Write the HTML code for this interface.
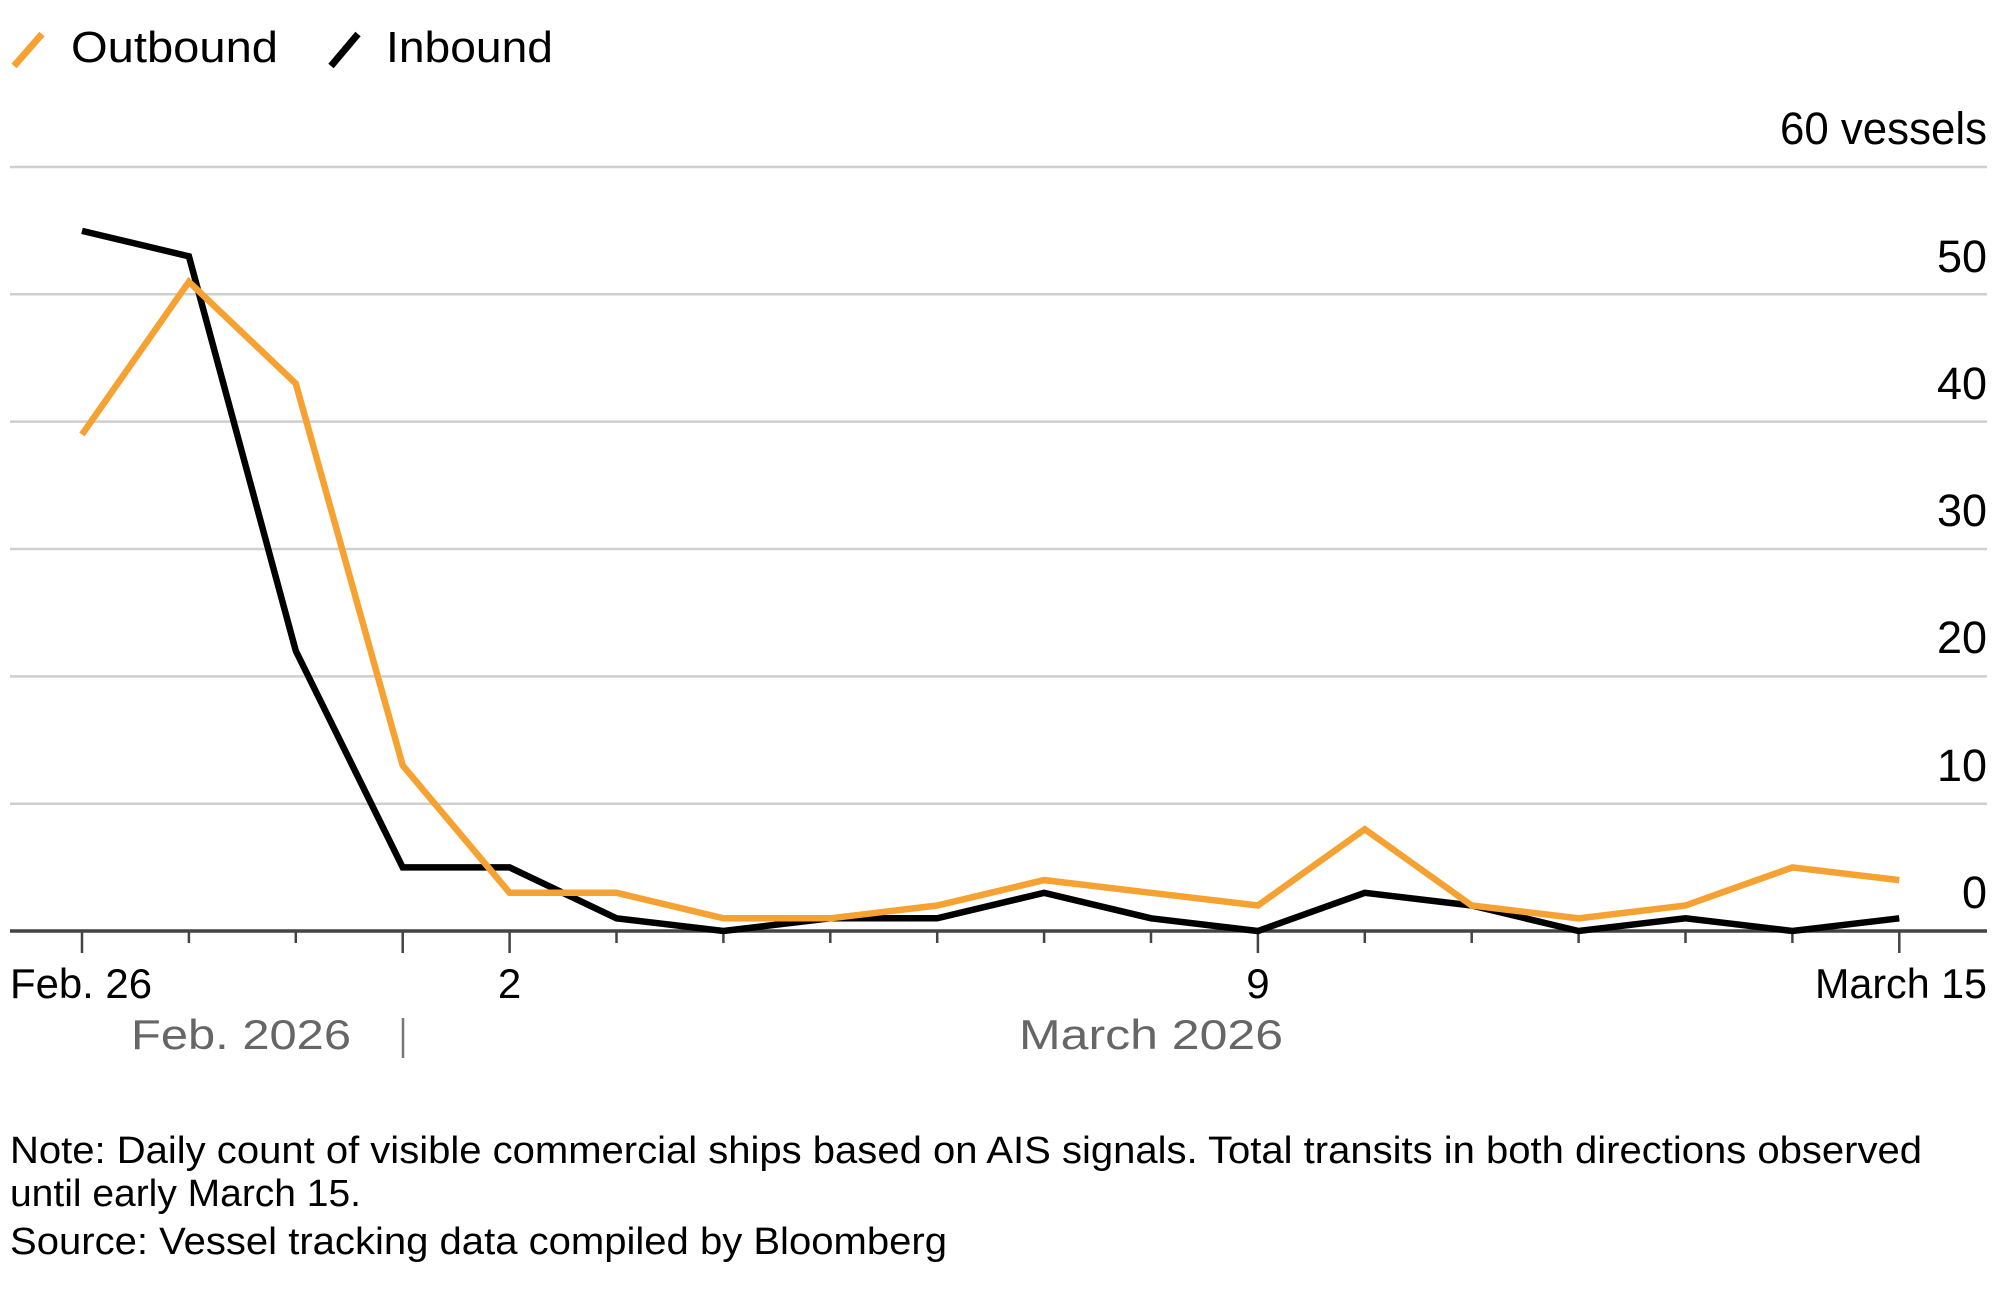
<!DOCTYPE html>
<html><head><meta charset="utf-8"><style>
html,body{margin:0;padding:0;background:#fff;}
svg{display:block;font-family:"Liberation Sans",sans-serif;}
</style></head><body>
<svg width="2000" height="1303" viewBox="0 0 2000 1303" xmlns="http://www.w3.org/2000/svg">
<!-- legend -->
<line x1="14" y1="66" x2="42" y2="34" stroke="#f5a233" stroke-width="7"/>
<text x="71" y="62" font-size="44" fill="#000" textLength="207" lengthAdjust="spacingAndGlyphs">Outbound</text>
<line x1="331" y1="66" x2="358" y2="34" stroke="#000" stroke-width="7"/>
<text x="386" y="62" font-size="44" fill="#000" textLength="167" lengthAdjust="spacingAndGlyphs">Inbound</text>
<!-- grid -->
<g stroke="#cfcfcf" stroke-width="2.5">
<line x1="10" y1="167" x2="1987" y2="167"/>
<line x1="10" y1="294.3" x2="1987" y2="294.3"/>
<line x1="10" y1="421.6" x2="1987" y2="421.6"/>
<line x1="10" y1="549" x2="1987" y2="549"/>
<line x1="10" y1="676.4" x2="1987" y2="676.4"/>
<line x1="10" y1="803.7" x2="1987" y2="803.7"/>
</g>
<g font-size="45" fill="#000" text-anchor="end">
<text x="1987" y="144" textLength="207" lengthAdjust="spacingAndGlyphs">60 vessels</text>
<text x="1987" y="272">50</text>
<text x="1987" y="399">40</text>
<text x="1987" y="526">30</text>
<text x="1987" y="653">20</text>
<text x="1987" y="781">10</text>
<text x="1987" y="908">0</text>
</g>
<!-- axis -->
<line x1="10" y1="931" x2="1987" y2="931" stroke="#444" stroke-width="3.5"/>
<g stroke="#444" stroke-width="2.5">
<line x1="82" y1="931" x2="82" y2="953"/>
<line x1="188.9" y1="931" x2="188.9" y2="943"/>
<line x1="295.8" y1="931" x2="295.8" y2="943"/>
<line x1="402.7" y1="931" x2="402.7" y2="953"/>
<line x1="509.6" y1="931" x2="509.6" y2="953"/>
<line x1="616.5" y1="931" x2="616.5" y2="943"/>
<line x1="723.4" y1="931" x2="723.4" y2="943"/>
<line x1="830.3" y1="931" x2="830.3" y2="943"/>
<line x1="937.2" y1="931" x2="937.2" y2="943"/>
<line x1="1044.1" y1="931" x2="1044.1" y2="943"/>
<line x1="1151" y1="931" x2="1151" y2="943"/>
<line x1="1257.9" y1="931" x2="1257.9" y2="953"/>
<line x1="1364.8" y1="931" x2="1364.8" y2="943"/>
<line x1="1471.7" y1="931" x2="1471.7" y2="943"/>
<line x1="1578.6" y1="931" x2="1578.6" y2="943"/>
<line x1="1685.5" y1="931" x2="1685.5" y2="943"/>
<line x1="1792.4" y1="931" x2="1792.4" y2="943"/>
<line x1="1899.3" y1="931" x2="1899.3" y2="953"/>
</g>
<g font-size="42" fill="#000">
<text x="10" y="998" textLength="142" lengthAdjust="spacingAndGlyphs">Feb. 26</text>
<text x="509.6" y="998" text-anchor="middle">2</text>
<text x="1257.9" y="998" text-anchor="middle">9</text>
<text x="1987" y="998" text-anchor="end" textLength="172" lengthAdjust="spacingAndGlyphs">March 15</text>
</g>
<g font-size="42" fill="#666">
<text x="131" y="1049" textLength="220" lengthAdjust="spacingAndGlyphs">Feb. 2026</text>
<text x="1019" y="1049" textLength="264" lengthAdjust="spacingAndGlyphs">March 2026</text>
</g>
<line x1="403" y1="1018" x2="403" y2="1058" stroke="#777" stroke-width="2.5"/>
<!-- series -->
<polyline fill="none" stroke="#000" stroke-width="6.5" stroke-linejoin="miter" points="82,230.9 188.9,256.3 295.8,650.9 402.7,867.4 509.6,867.4 616.5,918.3 723.4,931 830.3,918.3 937.2,918.3 1044.1,892.8 1151,918.3 1257.9,931 1364.8,892.8 1471.7,905.5 1578.6,931 1685.5,918.3 1792.4,931 1899.3,918.3"/>
<polyline fill="none" stroke="#f5a233" stroke-width="6.5" stroke-linejoin="miter" points="82,434.5 188.9,281.8 295.8,383.6 402.7,765.5 509.6,892.8 616.5,892.8 723.4,918.3 830.3,918.3 937.2,905.5 1044.1,880.1 1151,892.8 1257.9,905.5 1364.8,829.2 1471.7,905.5 1578.6,918.3 1685.5,905.5 1792.4,867.4 1899.3,880.1"/>
<!-- notes -->
<g font-size="38" fill="#000">
<text x="10" y="1163" textLength="1912" lengthAdjust="spacingAndGlyphs">Note: Daily count of visible commercial ships based on AIS signals. Total transits in both directions observed</text>
<text x="10" y="1206" textLength="351" lengthAdjust="spacingAndGlyphs">until early March 15.</text>
<text x="10" y="1254" textLength="937" lengthAdjust="spacingAndGlyphs">Source: Vessel tracking data compiled by Bloomberg</text>
</g>
</svg>
</body></html>
